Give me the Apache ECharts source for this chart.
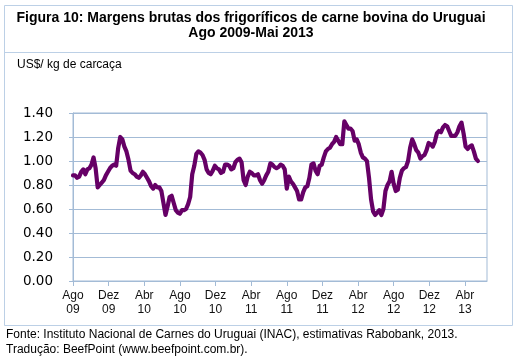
<!DOCTYPE html>
<html>
<head>
<meta charset="utf-8">
<script src="https://cdn.jsdelivr.net/npm/echarts@6/dist/echarts.min.js"></script>
<style>
html,body{margin:0;padding:0;background:#fff;}
#chart{width:519px;height:361px;}
</style>
</head>
<body>
<div id="chart"></div>
<script>
// Weekly gross margins, US$/kg carcass, starting first week of Aug 2009
const margin = [
  0.88, 0.88, 0.86, 0.87, 0.91, 0.93, 0.89, 0.93, 0.94, 0.97,
  1.03, 0.94, 0.78, 0.80, 0.82, 0.84, 0.88, 0.91, 0.94, 0.96,
  0.97, 0.96, 1.11, 1.20, 1.18, 1.12, 1.08, 1.01, 0.92, 0.90,
  0.89, 0.87, 0.86, 0.88, 0.91, 0.89, 0.86, 0.83, 0.79, 0.77,
  0.80, 0.78, 0.78, 0.75, 0.65, 0.55, 0.62, 0.70, 0.71, 0.65,
  0.59, 0.57, 0.56, 0.59, 0.59, 0.60, 0.64, 0.70, 0.89, 0.96,
  1.06, 1.08, 1.07, 1.05, 1.01, 0.93, 0.90,
  0.89, 0.92, 0.96, 0.94, 0.93, 0.90, 0.91, 0.97, 0.97, 0.96,
  0.93, 0.94, 0.99, 1.01, 1.02, 0.99, 0.84, 0.80, 0.87, 0.91,
  0.90, 0.88, 0.88, 0.89, 0.84, 0.81, 0.84, 0.88, 0.91, 0.98,
  0.97, 0.95, 0.94, 0.95, 0.97, 0.96, 0.93, 0.77, 0.87, 0.83,
  0.81, 0.78, 0.75, 0.68, 0.68, 0.74, 0.78, 0.79, 0.86, 0.97,
  0.98, 0.92, 0.89, 0.96, 0.97, 1.03, 1.08, 1.10, 1.11, 1.14,
  1.16, 1.20, 1.17, 1.14, 1.14,
  1.33, 1.30, 1.27, 1.27, 1.25, 1.17, 1.18, 1.14, 1.07, 1.03,
  1.02, 1.00, 0.86, 0.68, 0.58, 0.55, 0.57, 0.59, 0.55, 0.60,
  0.75, 0.80, 0.83, 0.91, 0.81, 0.75, 0.76, 0.86, 0.92, 0.94,
  0.95, 1.00, 1.11, 1.18, 1.14, 1.09, 1.07, 1.02, 1.04, 1.05,
  1.09, 1.15, 1.14, 1.12, 1.16, 1.23, 1.25, 1.24, 1.28, 1.30,
  1.29, 1.25, 1.21, 1.21, 1.21, 1.24, 1.29, 1.32, 1.23, 1.12,
  1.10, 1.12, 1.13, 1.08, 1.02, 1.00
];
const tickLabels = ['Ago\n09','Dez\n09','Abr\n10','Ago\n10','Dez\n10','Abr\n11','Ago\n11','Dez\n11','Abr\n12','Ago\n12','Dez\n12','Abr\n13'];
const yTicks = [0, 0.2, 0.4, 0.6, 0.8, 1.0, 1.2, 1.4];

const titleText = 'Figura 10: Margens brutas dos frigoríficos de carne bovina do Uruguai\nAgo 2009-Mai 2013';
const unitText = 'US$/ kg de carcaça';
const source1 = 'Fonte: Instituto Nacional de Carnes do Uruguai (INAC), estimativas Rabobank, 2013.';
const source2 = 'Tradução: BeefPoint (www.beefpoint.com.br).';

const WEEKS_PER_TICK = 52 / 3; // 4 months
const tickPos = tickLabels.map((_, i) => i * WEEKS_PER_TICK);

const gridColor = '#a3bbd6';
const boxColor = '#bcd0e6';
const sans = '"Liberation Sans", Arial, sans-serif';

const chart = echarts.init(document.getElementById('chart'), null, {renderer: 'canvas'});
chart.setOption({
  animation: false,
  backgroundColor: '#fff',
  graphic: [
    {type: 'rect', shape: {x: 4.5, y: 5.5, width: 508, height: 320}, style: {fill: 'none', stroke: boxColor, lineWidth: 1}, silent: true},
    {type: 'line', shape: {x1: 4.5, y1: 52.5, x2: 512.5, y2: 52.5}, style: {stroke: boxColor, lineWidth: 1}, silent: true},
    {type: 'text', x: 251, y: 10.5, style: {text: titleText, font: 'bold 14px ' + sans, fill: '#000', textAlign: 'center', textVerticalAlign: 'top', lineHeight: 15}},
    {type: 'text', x: 17, y: 65, style: {text: unitText, font: '12px ' + sans, fill: '#000', textVerticalAlign: 'middle'}},
    {type: 'text', x: 6, y: 335, style: {text: source1, font: '12px ' + sans, fill: '#000', textVerticalAlign: 'middle'}},
    {type: 'text', x: 6, y: 350, style: {text: source2, font: '12px ' + sans, fill: '#000', textVerticalAlign: 'middle'}}
  ],
  grid: {left: 73, right: 32, top: 113, bottom: 80, show: true, borderColor: gridColor, borderWidth: 1, backgroundColor: 'transparent'},
  xAxis: {
    type: 'value',
    min: 0,
    max: 201.4,
    axisLine: {show: true, lineStyle: {color: gridColor, width: 1}},
    axisTick: {show: true, length: 5, customValues: tickPos, lineStyle: {color: gridColor}},
    splitLine: {show: false},
    axisLabel: {
      customValues: tickPos,
      formatter: v => tickLabels[Math.round(v / WEEKS_PER_TICK)] || '',
      fontFamily: sans,
      fontSize: 12,
      lineHeight: 14,
      color: '#111',
      margin: 8
    }
  },
  yAxis: {
    type: 'value',
    min: yTicks[0],
    max: yTicks[yTicks.length - 1],
    interval: 0.2,
    axisLine: {show: true, lineStyle: {color: gridColor, width: 1}},
    axisTick: {show: true, length: 4, lineStyle: {color: gridColor}},
    splitLine: {show: true, lineStyle: {color: gridColor, width: 1}},
    axisLabel: {
      formatter: v => v.toFixed(2),
      fontFamily: '"DejaVu Sans", Verdana, sans-serif',
      fontSize: 13.5,
      color: '#000',
      margin: 20
    }
  },
  series: [{
    type: 'line',
    data: margin.map((v, i) => [i, v]),
    showSymbol: false,
    symbol: 'none',
    lineStyle: {color: '#660066', width: 4.2, join: 'round', cap: 'round'},
    z: 5
  }]
});
</script>
</body>
</html>
